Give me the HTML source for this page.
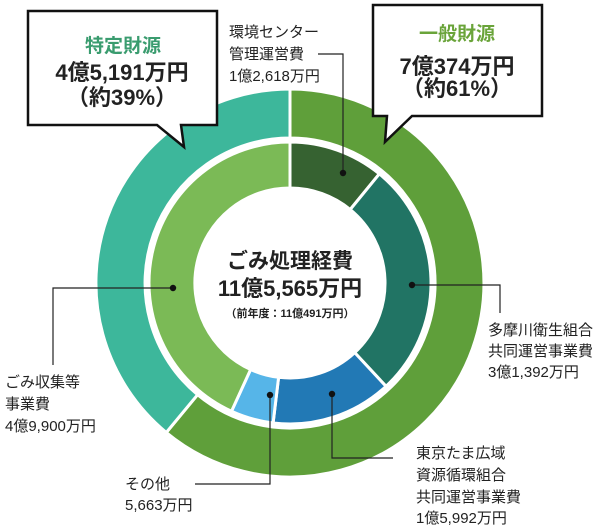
<!DOCTYPE html>
<html><head><meta charset="utf-8"><style>
html,body{margin:0;padding:0;background:#fff;}
svg{display:block;font-family:"Liberation Sans","Noto Sans CJK JP",sans-serif;}
.l{font-size:15px;fill:#222;}
</style></head><body>
<svg width="605" height="527" viewBox="0 0 605 527" xmlns="http://www.w3.org/2000/svg">
<g stroke="#fff" stroke-width="3">
<path d="M290,89 A194,194 0 1 1 166.3,432.5 L197.6,394.7 A145,145 0 1 0 290,138 Z" fill="#5f9f3a"/>
<path d="M166.3,432.5 A194,194 0 0 1 290,89 L290,138 A145,145 0 0 0 197.6,394.7 Z" fill="#3db79b"/>
<path d="M290,142 A141,141 0 0 1 379.3,173.9 L350.2,209.5 A95,95 0 0 0 290,188 Z" fill="#366231"/>
<path d="M379.3,173.9 A141,141 0 0 1 386,386.3 L354.7,352.6 A95,95 0 0 0 350.2,209.5 Z" fill="#217464"/>
<path d="M386,386.3 A141,141 0 0 1 273.1,423 L278.6,377.3 A95,95 0 0 0 354.7,352.6 Z" fill="#2279b5"/>
<path d="M273.1,423 A141,141 0 0 1 231.5,411.3 L250.6,369.5 A95,95 0 0 0 278.6,377.3 Z" fill="#56b5e8"/>
<path d="M231.5,411.3 A141,141 0 0 1 290,142 L290,188 A95,95 0 0 0 250.6,369.5 Z" fill="#7bba56"/>
</g>
<path d="M28,11 H217 V125 H181 L184,147 L157,125 H28 Z" fill="#fff" stroke="#111" stroke-width="2.5"/>
<path d="M373,5 H542 V116 H412 L385,142 L387,116 H373 Z" fill="#fff" stroke="#111" stroke-width="2.5"/>
<g font-weight="bold" text-anchor="middle">
<text x="123" y="52" font-size="19" fill="#3a9c6f">特定財源</text>
<text x="122" y="80" font-size="22" fill="#222">4億5,191万円</text>
<text x="122" y="105" font-size="22" fill="#222">（約39%）</text>
<text x="457" y="40" font-size="19" fill="#6aa43a">一般財源</text>
<text x="457" y="74" font-size="22" fill="#222">7億374万円</text>
<text x="457" y="96" font-size="22" fill="#222">（約61%）</text>
<text x="290" y="268" font-size="21" fill="#222">ごみ処理経費</text>
<text x="290" y="296" font-size="22" fill="#222">11億5,565万円</text>
<text x="290" y="317" font-size="11" fill="#222">（前年度：11億491万円）</text>
</g>
<g fill="none" stroke="#222" stroke-width="1.2">
<polyline points="318,54 343,54 343,173"/>
<polyline points="412,285 500,285 500,313"/>
<polyline points="332,394 332,458 393,458"/>
<polyline points="270,395 270,484 195,484"/>
<polyline points="173,288 53,288 53,365"/>
</g>
<g fill="#111">
<circle cx="343" cy="173" r="3.2"/><circle cx="412" cy="285" r="3.2"/>
<circle cx="332" cy="394" r="3.2"/><circle cx="270" cy="395" r="3.2"/>
<circle cx="173" cy="288" r="3.2"/>
</g>
<g class="l">
<text x="229" y="37">環境センター</text>
<text x="229" y="59">管理運営費</text>
<text x="229" y="81">1億2,618万円</text>
<text x="488" y="335">多摩川衛生組合</text>
<text x="488" y="356">共同運営事業費</text>
<text x="488" y="377">3億1,392万円</text>
<text x="416" y="458">東京たま広域</text>
<text x="416" y="480">資源循環組合</text>
<text x="416" y="502">共同運営事業費</text>
<text x="416" y="523">1億5,992万円</text>
<text x="5" y="387">ごみ収集等</text>
<text x="5" y="409">事業費</text>
<text x="5" y="431">4億9,900万円</text>
<text x="125" y="489">その他</text>
<text x="125" y="510">5,663万円</text>
</g>
</svg>
</body></html>
